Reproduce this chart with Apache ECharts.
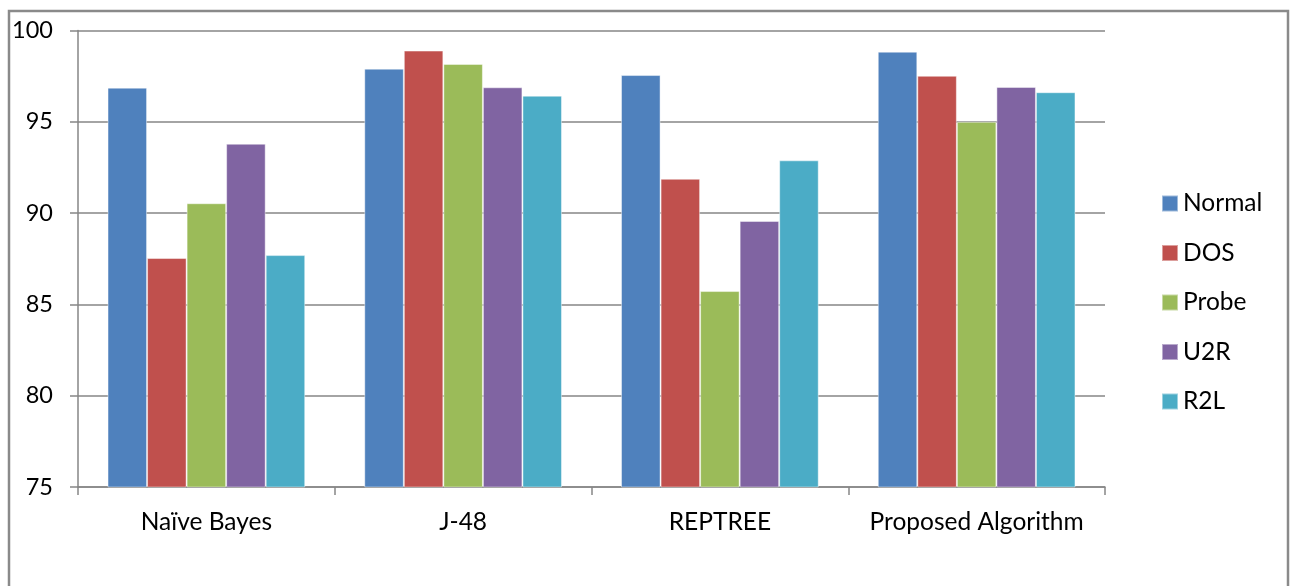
<!DOCTYPE html>
<html>
<head>
<meta charset="utf-8">
<script src="https://cdn.jsdelivr.net/npm/echarts@6/dist/echarts.min.js"></script>
<style>
html,body{margin:0;padding:0;background:#fff;}
#chart{width:1297px;height:586px;}
</style>
</head>
<body>
<div id="chart"></div>
<script>
const categories = ['Naïve Bayes', 'J-48', 'REPTREE', 'Proposed Algorithm'];
const seriesNames = ['Normal', 'DOS', 'Probe', 'U2R', 'R2L'];
const normal = [96.87, 97.91, 97.56, 98.84];
const dos = [87.54, 98.9, 91.88, 97.52];
const probe = [90.54, 98.17, 85.73, 95.0];
const u2r = [93.8, 96.89, 89.57, 96.91];
const r2l = [87.7, 96.43, 92.89, 96.62];
const yTicks = [75, 80, 85, 90, 95, 100];

const colors = ['#4F81BD', '#C0504D', '#9BBB59', '#8064A2', '#4BACC6'];
const values = [normal, dos, probe, u2r, r2l];
const font = 'Lato, "Open Sans", sans-serif';
const axisGray = '#868686';

const chart = echarts.init(document.getElementById('chart'), null, {renderer: 'canvas'});
chart.setOption({
  animation: false,
  backgroundColor: '#fff',
  color: colors,
  graphic: [{
    type: 'rect',
    shape: {x: 9, y: 11, width: 1279, height: 600},
    style: {fill: 'none', stroke: '#8a8a8a', lineWidth: 2.5},
    silent: true,
    z: 100
  }],
  grid: {left: 78, right: 192, top: 30.5, bottom: 99, containLabel: false},
  legend: {
    orient: 'vertical',
    left: 1156,
    top: 186,
    itemWidth: 16,
    itemHeight: 16,
    itemGap: 24.5,
    itemTextGap: 7,
    icon: 'rect',
    data: seriesNames,
    textStyle: {fontFamily: font, fontSize: 24.5, color: '#000', lineHeight: 24}
  },
  xAxis: {
    type: 'category',
    data: categories,
    axisLine: {lineStyle: {color: axisGray, width: 1.5}},
    axisTick: {show: true, length: 8, alignWithLabel: false, lineStyle: {color: axisGray, width: 1.5}},
    axisLabel: {fontFamily: font, fontSize: 24.5, color: '#000', margin: 23, interval: 0}
  },
  yAxis: {
    type: 'value',
    min: yTicks[0],
    max: yTicks[yTicks.length - 1],
    interval: 5,
    axisLine: {show: true, lineStyle: {color: axisGray, width: 1.5}},
    axisTick: {show: true, length: 8, lineStyle: {color: axisGray, width: 1.5}},
    axisLabel: {fontFamily: font, fontSize: 23.5, color: '#000', margin: 25},
    splitLine: {show: true, lineStyle: {color: axisGray, width: 1.5}}
  },
  series: seriesNames.map((name, i) => ({
    name: name,
    type: 'bar',
    data: values[i],
    barGap: '0%',
    barCategoryGap: '23%',
    itemStyle: {color: colors[i], borderColor: 'rgba(255,255,255,0.45)', borderWidth: 1}
  }))
});
</script>
</body>
</html>
